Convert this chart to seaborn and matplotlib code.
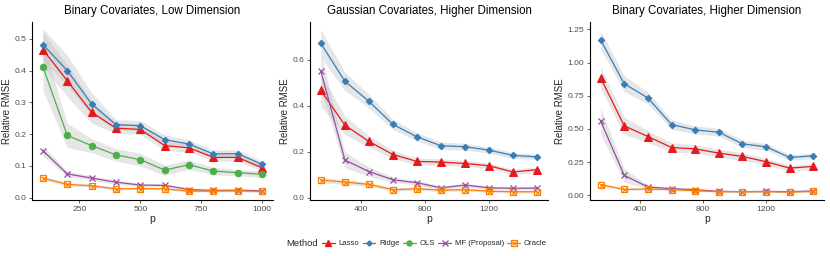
import numpy as np
import pandas as pd
import seaborn as sns
import matplotlib
matplotlib.use("Agg")
import matplotlib.pyplot as plt
from matplotlib.lines import Line2D
from matplotlib.legend_handler import HandlerTuple

# ---------------- data ----------------
methods = ["Lasso", "Ridge", "OLS", "MF (Proposal)", "Oracle"]
titles = ["Binary Covariates, Low Dimension",
          "Gaussian Covariates, Higher Dimension",
          "Binary Covariates, Higher Dimension"]

p_low = [100, 200, 300, 400, 500, 600, 700, 800, 900, 1000]
p_high = [150, 300, 450, 600, 750, 900, 1050, 1200, 1350, 1500]

# Panel 1: Binary covariates, low dimension
bl_lasso = [0.466, 0.368, 0.269, 0.219, 0.215, 0.164, 0.157, 0.127, 0.127, 0.094]
bl_ridge = [0.482, 0.400, 0.295, 0.230, 0.227, 0.183, 0.169, 0.138, 0.139, 0.105]
bl_ols = [0.412, 0.196, 0.164, 0.135, 0.120, 0.087, 0.104, 0.084, 0.079, 0.074]
bl_mf = [0.148, 0.075, 0.062, 0.049, 0.040, 0.039, 0.026, 0.023, 0.024, 0.022]
bl_oracle = [0.062, 0.042, 0.038, 0.028, 0.029, 0.028, 0.021, 0.021, 0.022, 0.020]
bl_lasso_hw = [0.055, 0.050, 0.035, 0.016, 0.016, 0.015, 0.013, 0.012, 0.012, 0.010]
bl_ridge_hw = [0.050, 0.048, 0.035, 0.016, 0.016, 0.015, 0.013, 0.012, 0.012, 0.010]
bl_ols_hw = [0.075, 0.038, 0.022, 0.020, 0.020, 0.016, 0.015, 0.012, 0.010, 0.010]
bl_mf_hw = [0.016, 0.009, 0.007, 0.006, 0.005, 0.005, 0.004, 0.004, 0.004, 0.004]
bl_oracle_hw = [0.006, 0.005, 0.004, 0.004, 0.003, 0.003, 0.003, 0.003, 0.003, 0.003]

# Panel 2: Gaussian covariates, higher dimension
gh_lasso = [0.467, 0.316, 0.245, 0.188, 0.158, 0.155, 0.149, 0.139, 0.112, 0.122]
gh_ridge = [0.672, 0.507, 0.420, 0.319, 0.265, 0.226, 0.222, 0.207, 0.184, 0.178]
gh_mf = [0.552, 0.164, 0.114, 0.078, 0.065, 0.043, 0.055, 0.043, 0.041, 0.042]
gh_oracle = [0.077, 0.068, 0.058, 0.035, 0.039, 0.033, 0.035, 0.028, 0.026, 0.026]
gh_lasso_hw = [0.070, 0.040, 0.025, 0.018, 0.015, 0.014, 0.013, 0.012, 0.012, 0.012]
gh_ridge_hw = [0.060, 0.040, 0.030, 0.022, 0.018, 0.016, 0.015, 0.014, 0.012, 0.012]
gh_mf_hw = [0.080, 0.035, 0.020, 0.012, 0.010, 0.008, 0.008, 0.007, 0.007, 0.007]
gh_oracle_hw = [0.012, 0.010, 0.009, 0.007, 0.007, 0.006, 0.006, 0.005, 0.005, 0.005]

# Panel 3: Binary covariates, higher dimension
bh_lasso = [0.885, 0.523, 0.443, 0.360, 0.350, 0.318, 0.293, 0.253, 0.205, 0.218]
bh_ridge = [1.170, 0.840, 0.733, 0.533, 0.493, 0.475, 0.388, 0.365, 0.285, 0.298]
bh_mf = [0.560, 0.150, 0.063, 0.050, 0.043, 0.030, 0.028, 0.030, 0.028, 0.033]
bh_oracle = [0.080, 0.045, 0.048, 0.043, 0.035, 0.028, 0.028, 0.028, 0.025, 0.030]
bh_lasso_hw = [0.080, 0.065, 0.045, 0.035, 0.030, 0.030, 0.028, 0.025, 0.022, 0.022]
bh_ridge_hw = [0.070, 0.060, 0.045, 0.035, 0.030, 0.030, 0.028, 0.025, 0.022, 0.022]
bh_mf_hw = [0.100, 0.050, 0.015, 0.010, 0.008, 0.006, 0.006, 0.006, 0.006, 0.006]
bh_oracle_hw = [0.012, 0.008, 0.008, 0.007, 0.006, 0.005, 0.005, 0.005, 0.005, 0.005]

panels = [
    (p_low, {"Lasso": (bl_lasso, bl_lasso_hw), "Ridge": (bl_ridge, bl_ridge_hw),
             "OLS": (bl_ols, bl_ols_hw), "MF (Proposal)": (bl_mf, bl_mf_hw),
             "Oracle": (bl_oracle, bl_oracle_hw)}),
    (p_high, {"Lasso": (gh_lasso, gh_lasso_hw), "Ridge": (gh_ridge, gh_ridge_hw),
              "MF (Proposal)": (gh_mf, gh_mf_hw), "Oracle": (gh_oracle, gh_oracle_hw)}),
    (p_high, {"Lasso": (bh_lasso, bh_lasso_hw), "Ridge": (bh_ridge, bh_ridge_hw),
              "MF (Proposal)": (bh_mf, bh_mf_hw), "Oracle": (bh_oracle, bh_oracle_hw)}),
]

x_ticks = [[250, 500, 750, 1000], [400, 800, 1200], [400, 800, 1200]]
y_ticks = [[0.0, 0.1, 0.2, 0.3, 0.4, 0.5], [0.0, 0.2, 0.4, 0.6],
           [0.0, 0.25, 0.5, 0.75, 1.0, 1.25]]
y_ticklabels = [["0.0", "0.1", "0.2", "0.3", "0.4", "0.5"], ["0.0", "0.2", "0.4", "0.6"],
                ["0.00", "0.25", "0.50", "0.75", "1.00", "1.25"]]

# ---------------- style ----------------
sns.set_theme(style="ticks")
plt.rcParams["font.family"] = ["Liberation Sans", "DejaVu Sans"]

colors = {"Lasso": "#E41A1C", "Ridge": "#377EB8", "OLS": "#4DAF4A",
          "MF (Proposal)": "#984EA3", "Oracle": "#FF7F00"}
mstyle = {
    "Lasso": dict(marker="^", markersize=5.5),
    "Ridge": dict(marker="D", markersize=3.3),
    "OLS": dict(marker="o", markersize=4.6),
    "MF (Proposal)": dict(marker="x", markersize=5, markeredgewidth=0.9),
    "Oracle": dict(marker="s", markersize=5, markerfacecolor="none", markeredgewidth=0.9),
}

W, H = 830, 256
fig = plt.figure(figsize=(W / 100, H / 100), dpi=100)
boxes = [(32, 273), (310, 548), (590, 824)]
top_px, bot_px = 22, 200
ylims = [(-0.007, 0.553), (-0.01, 0.765), (-0.035, 1.305)]
xlims = [(55, 1045), (82.5, 1567.5), (82.5, 1567.5)]

for i, ((xs, series), (l, r)) in enumerate(zip(panels, boxes)):
    ax = fig.add_axes([l / W, 1 - bot_px / H, (r - l) / W, (bot_px - top_px) / H])
    # ribbons
    for m, (vals, hw) in series.items():
        v = np.array(vals)
        h = np.array(hw)
        ax.fill_between(xs, v - h, v + h, color="#BEBEBE", alpha=0.38, lw=0, zorder=1)
    for m, (vals, hw) in series.items():
        df = pd.DataFrame({"p": xs, "rmse": vals})
        sns.lineplot(data=df, x="p", y="rmse", ax=ax, color=colors[m], lw=0.9,
                     markeredgecolor=colors[m], zorder=3, **mstyle[m])
        if m == "Oracle":
            sns.lineplot(data=df, x="p", y="rmse", ax=ax, color=colors[m], lw=0,
                         marker="x", markersize=3.6, markeredgewidth=0.8,
                         markeredgecolor=colors[m], zorder=4)
    ax.set_xlim(*xlims[i])
    ax.set_ylim(*ylims[i])
    ax.set_xticks(x_ticks[i])
    ax.set_yticks(y_ticks[i])
    ax.set_yticklabels(y_ticklabels[i])
    ax.set_title(titles[i], fontsize=8.3, pad=6, color="black")
    ax.set_xlabel("p", fontsize=7.5, labelpad=1)
    ax.set_ylabel("Relative RMSE", fontsize=7, labelpad=2)
    ax.tick_params(axis="both", labelsize=6.1, colors="#4D4D4D", length=2.5, width=0.6, pad=1.5)
    for s in ["top", "right"]:
        ax.spines[s].set_visible(False)
    for s in ["left", "bottom"]:
        ax.spines[s].set_color("black")
        ax.spines[s].set_linewidth(0.8)

# legend (slightly smaller markers than in the panels)
def legend_style(m):
    st = dict(mstyle[m])
    st["markersize"] = st["markersize"] * 0.78
    return st

handles = []
for m in methods:
    if m == "Oracle":
        h1 = Line2D([], [], color=colors[m], lw=0.9, markeredgecolor=colors[m], **legend_style(m))
        h2 = Line2D([], [], color=colors[m], lw=0, marker="x", markersize=2.8,
                    markeredgewidth=0.8, markeredgecolor=colors[m])
        handles.append((h1, h2))
    else:
        handles.append(Line2D([], [], color=colors[m], lw=0.9, markeredgecolor=colors[m],
                              **legend_style(m)))
fig.text(286 / W, 1 - 244 / H, "Method", fontsize=6.8, va="center", ha="left")
fig.legend(handles, methods, loc="center left", bbox_to_anchor=(322 / W, 1 - 243.5 / H),
           ncol=5, frameon=False, fontsize=5.6, handlelength=1.65, handletextpad=0.5,
           columnspacing=0.4, borderaxespad=0, borderpad=0,
           handler_map={tuple: HandlerTuple(ndivide=1, pad=0)})

fig.savefig("out.png", dpi=100)
